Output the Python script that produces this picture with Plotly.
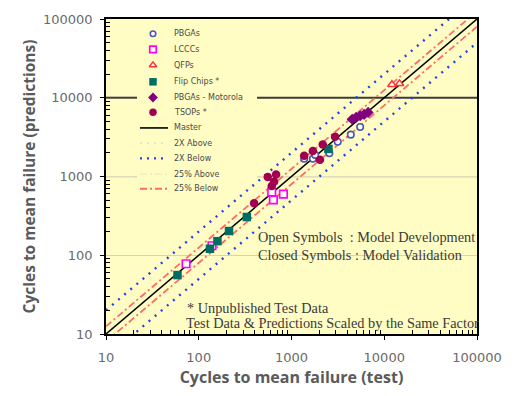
import plotly.graph_objects as go

# ---------------- data (test cycles, predicted cycles) ----------------
pbga_test = [1370, 1700, 1800, 2560, 3150, 4360, 5500]
pbga_pred = [1680, 1680, 1880, 1970, 2760, 3400, 4250]

lccc_test = [73, 139, 612, 638, 818]
lccc_pred = [78, 132, 634, 504, 599]

qfp_test = [12100, 14600]
qfp_pred = [14700, 15100]

flip_test = [59, 132, 159, 212, 330, 2500]
flip_pred = [56, 121, 151, 203, 306, 2240]

moto_test = [4510, 4980, 5500, 6070, 6700]
moto_pred = [5330, 5650, 5900, 6150, 6520]

tsop_test = [395, 555, 612, 649, 682, 1370, 1700, 2030, 2170, 2950]
tsop_pred = [457, 984, 759, 859, 1060, 1840, 2110, 1630, 2550, 3190]

line_x = [10, 100000]
ref_names = ["Master", "2X Above", "2X Below", "25% Above", "25% Below"]
ref_factors = [1.0, 2.0, 0.5, 1.25, 0.8]

tick_vals = [10, 100, 1000, 10000, 100000]
tick_text = ["10", "100", "1000", "10000", "100000"]

legend_labels = ["PBGAs", "LCCCs", "QFPs", "Flip Chips *", "PBGAs - Motorola", "TSOPs *",
                 "Master", "2X Above", "2X Below", "25% Above", "25% Below"]

# ---------------- styling ----------------
BG = "#FFFDC4"
BLUE = "#2a3df0"
SALMON = "#ff6a6a"
ref_styles = [
    dict(color="black", width=1.5, dash="solid"),
    dict(color=BLUE, width=2.4, dash="2px,6px"),
    dict(color=BLUE, width=2.4, dash="2px,6px"),
    dict(color=SALMON, width=1.8, dash="7px,3px,2px,3px"),
    dict(color=SALMON, width=1.8, dash="7px,3px,2px,3px"),
]
series = [
    (pbga_test, pbga_pred, dict(symbol="circle", size=6.5, color="white", line=dict(color="#4b57b0", width=1.6))),
    (lccc_test, lccc_pred, dict(symbol="square", size=7.5, color="white", line=dict(color="#ff00ff", width=1.7))),
    (qfp_test, qfp_pred, dict(symbol="triangle-up", size=7.5, color="white", line=dict(color="#ff3333", width=1.5))),
    (flip_test, flip_pred, dict(symbol="square", size=8.5, color="#006e64", line=dict(width=0))),
    (moto_test, moto_pred, dict(symbol="diamond", size=8.5, color="#80007f", line=dict(width=0))),
    (tsop_test, tsop_pred, dict(symbol="circle", size=8.5, color="#a0004f", line=dict(width=0))),
]

fig = go.Figure()

for name, f, st in zip(ref_names, ref_factors, ref_styles):
    fig.add_trace(go.Scatter(x=line_x, y=[v * f for v in line_x], mode="lines",
                             line=st, name=name, showlegend=False, hoverinfo="skip"))

for (xs, ys, mk), name in zip(series, legend_labels[:6]):
    fig.add_trace(go.Scatter(x=xs, y=ys, mode="markers", marker=mk, name=name,
                             showlegend=False, cliponaxis=False))

# ---------------- manual legend on a pixel overlay ----------------
L, R, T, B = 106, 477, 15, 336
rows = [30, 46, 62, 79, 95, 110, 126, 141.5, 157, 173, 188]
mx, tx = 153, 172
for i in range(6):
    mk = dict(series[i][2])
    mk["size"] = mk["size"] - 1
    fig.add_trace(go.Scatter(x=[mx], y=[rows[i]], mode="markers", marker=mk,
                             xaxis="x2", yaxis="y2", showlegend=False, hoverinfo="skip"))
legend_line_styles = [
    dict(color="black", width=1.6, dash="solid"),
    dict(color="#e4e2c8", width=2.0, dash="2px,5px"),
    dict(color=BLUE, width=2.4, dash="2px,5px"),
    dict(color="#f2eec0", width=1.8, dash="7px,3px,2px,3px"),
    dict(color=SALMON, width=1.8, dash="7px,3px,2px,3px"),
]
for j, st in enumerate(legend_line_styles):
    fig.add_trace(go.Scatter(x=[140, 168], y=[rows[6 + j]] * 2, mode="lines", line=st,
                             xaxis="x2", yaxis="y2", showlegend=False, hoverinfo="skip"))

annotations = []
for lab, r in zip(legend_labels, rows):
    annotations.append(dict(x=tx, y=r, xref="x2", yref="y2", text=lab, showarrow=False,
                            xanchor="left", yanchor="middle",
                            font=dict(family="DejaVu Sans", size=8, color="#4a4a4a")))

serif = dict(family="Liberation Serif", size=14.3, color="#3a3a3a")
annotations += [
    dict(x=256, y=237, xref="x2", yref="y2", text="Open Symbols  : Model Development",
         showarrow=False, xanchor="left", yanchor="middle", font=serif),
    dict(x=256, y=255, xref="x2", yref="y2", text="Closed Symbols : Model Validation",
         showarrow=False, xanchor="left", yanchor="middle", font=serif),
    dict(x=185, y=309, xref="x2", yref="y2", text="* Unpublished Test Data",
         showarrow=False, xanchor="left", yanchor="middle", font=serif),
    dict(x=184, y=325, xref="x2", yref="y2", text="Test Data & Predictions Scaled by the Same Factor",
         showarrow=False, xanchor="left", yanchor="middle", font=serif),
]

# gridlines (with a gap behind the legend block)
shapes = []
grid_y = {256.0: "#d6d4b4", 175.8: "#d6d4b4", 95.2: "#3c3c3c"}
for gy, col in grid_y.items():
    w = 2 if col == "#3c3c3c" else 1.2
    if gy < 190:
        segs = [(L, 137), (257, R)]
    else:
        segs = [(L, R)]
    for a, b in segs:
        shapes.append(dict(type="line", xref="x2", yref="y2", x0=a, x1=b, y0=gy, y1=gy,
                           line=dict(color=col, width=w), layer="below"))

minor_vals = [m * 10 ** e for e in range(1, 5) for m in range(2, 10)]
axis_common = dict(
    type="log", range=[1, 5], tickmode="array", tickvals=tick_vals, ticktext=tick_text,
    showgrid=False, zeroline=False, showline=True, linecolor="black", linewidth=1.6,
    mirror=True, ticks="outside", ticklen=4, tickcolor="black", tickwidth=1.2,
    tickfont=dict(family="DejaVu Sans", size=13, color="#6a6a6a"),
    minor=dict(tickmode="array", tickvals=minor_vals, ticks="inside", ticklen=4,
               tickcolor="black", tickwidth=1, showgrid=False),
)

fig.update_layout(
    width=516, height=396,
    margin=dict(l=L, r=516 - R, t=T, b=396 - B),
    paper_bgcolor="white", plot_bgcolor=BG,
    showlegend=False,
    xaxis=dict(axis_common, ticklabelstandoff=7,
               title=dict(text="Cycles to mean failure (test)", standoff=7,
                          font=dict(family="Open Sans", size=16, color="#5a5a5a", weight="bold"))),
    yaxis=dict(axis_common, ticklabelstandoff=5,
               title=dict(text="Cycles to mean failure (predictions)", standoff=4,
                          font=dict(family="Open Sans", size=15.5, color="#5a5a5a", weight="bold"))),
    xaxis2=dict(overlaying="x", range=[L, R], visible=False, fixedrange=True),
    yaxis2=dict(overlaying="y", range=[B, T], visible=False, fixedrange=True),
    annotations=annotations,
    shapes=shapes,
)

fig.write_html("out.html")
